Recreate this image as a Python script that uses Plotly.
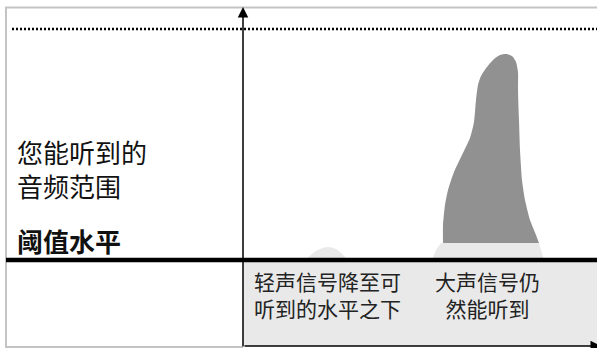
import plotly.graph_objects as go

# canvas coordinates (pixels, y grows downward)
W, H = 597, 348

# loud signal: part above the light base (dark grey)
loud_x = [443, 443, 445, 448, 454, 462, 470, 474, 476, 478, 481, 487, 494, 500, 506, 512, 516, 518, 518, 519, 520, 522, 525, 530, 536, 539]
loud_y = [243, 225, 205, 190, 172, 155, 138, 122, 100, 85, 76, 67, 59, 55, 54, 56, 62, 72, 90, 120, 150, 180, 200, 220, 235, 243]

# loud signal: base just above the threshold (light grey)
base_x = [432, 436, 441, 539, 541, 544]
base_y = [260, 250, 243, 243, 250, 260]

# soft signal bump (light grey)
soft_x = [306, 313, 320, 328, 336, 342, 348]
soft_y = [260, 253, 249, 247, 249, 254, 260]

# masked region below the threshold
masked_x = [243, 597, 597, 243]
masked_y = [262, 262, 346, 346]

threshold_y = 260
dotted_y = 29
axis_x = 243

left_label = "您能听到的<br>音频范围"
threshold_label = "<b>阈值水平</b>"
soft_label = "轻声信号降至可<br>听到的水平之下"
loud_label = "大声信号仍<br>然能听到"

LIGHT = "#e9e9e9"
DARK = "#919191"
FONT = "Noto Sans CJK SC"

fig = go.Figure()

fig.add_trace(go.Scatter(x=masked_x, y=masked_y, fill="toself", fillcolor=LIGHT,
                         mode="lines", line=dict(width=0), hoverinfo="skip"))
fig.add_trace(go.Scatter(x=base_x, y=base_y, fill="toself", fillcolor=LIGHT,
                         mode="lines", line=dict(width=0), hoverinfo="skip"))
fig.add_trace(go.Scatter(x=soft_x, y=soft_y, fill="toself", fillcolor=LIGHT,
                         mode="lines", line=dict(width=0, shape="spline"), hoverinfo="skip"))
fig.add_trace(go.Scatter(x=loud_x, y=loud_y, fill="toself", fillcolor=DARK,
                         mode="lines", line=dict(width=0, shape="spline", smoothing=0.6),
                         hoverinfo="skip"))

# frame
fig.add_trace(go.Scatter(x=[6, 6, W], y=[H, 7.5, 7.5], mode="lines",
                         line=dict(color="#c4c4c4", width=2), hoverinfo="skip"))
fig.add_trace(go.Scatter(x=[6, axis_x], y=[347, 347], mode="lines",
                         line=dict(color="#c4c4c4", width=2), hoverinfo="skip"))

# dotted top line
fig.add_trace(go.Scatter(x=[12, W], y=[dotted_y, dotted_y], mode="lines",
                         line=dict(color="black", width=2.5, dash="2px,2px"), hoverinfo="skip"))

# threshold
fig.add_trace(go.Scatter(x=[6, W], y=[threshold_y, threshold_y], mode="lines",
                         line=dict(color="black", width=4.5), hoverinfo="skip"))

annotations = [
    # vertical axis arrow
    dict(x=axis_x, y=7, ax=axis_x, ay=H, xref="x", yref="y", axref="x", ayref="y",
         showarrow=True, arrowhead=2, arrowsize=1.4, arrowwidth=1.5, arrowcolor="black", text=""),
    # horizontal axis arrow
    dict(x=W + 4, y=346, ax=axis_x, ay=346, xref="x", yref="y", axref="x", ayref="y",
         showarrow=True, arrowhead=2, arrowsize=1.4, arrowwidth=1.5, arrowcolor="black", text=""),
    dict(x=15, y=168, xref="x", yref="y", text=left_label, showarrow=False,
         xanchor="left", yanchor="middle", align="left",
         font=dict(family=FONT, size=26, color="#111")),
    dict(x=15, y=240, xref="x", yref="y", text=threshold_label, showarrow=False,
         xanchor="left", yanchor="middle", align="left",
         font=dict(family=FONT, size=26, color="#111")),
    dict(x=252, y=294, xref="x", yref="y", text=soft_label, showarrow=False,
         xanchor="left", yanchor="middle", align="left",
         font=dict(family=FONT, size=21, color="#222")),
    dict(x=487, y=294, xref="x", yref="y", text=loud_label, showarrow=False,
         xanchor="center", yanchor="middle", align="center",
         font=dict(family=FONT, size=21, color="#222")),
]

fig.update_layout(
    width=W, height=H,
    margin=dict(l=0, r=0, t=0, b=0),
    paper_bgcolor="white", plot_bgcolor="white",
    showlegend=False,
    annotations=annotations,
    xaxis=dict(range=[0, W], visible=False, fixedrange=True),
    yaxis=dict(range=[H, 0], visible=False, fixedrange=True),
)

# drop the default page margin so the figure sits at the window origin
fig.write_html("out.html", config={"displayModeBar": False},
               post_script="document.body.style.margin='0';document.body.style.overflow='hidden';")
